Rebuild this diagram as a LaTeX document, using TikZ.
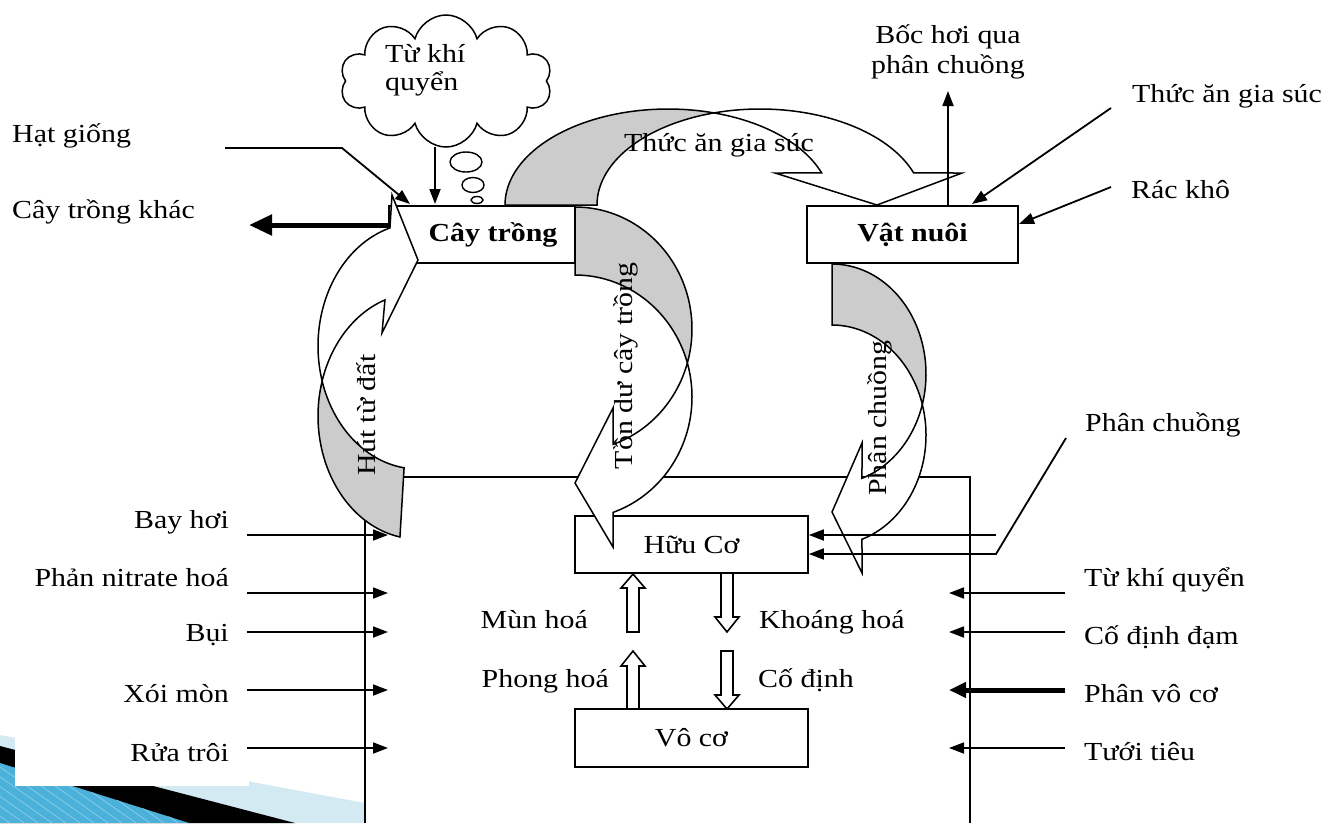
\documentclass[tikz,border=0pt]{standalone}
\usepackage{fontspec}
\setmainfont{Liberation Serif}[FakeStretch=1.15]
\usetikzlibrary{arrows.meta,shapes.symbols}
\definecolor{shadegray}{gray}{0.8}
\definecolor{lightsky}{HTML}{D4EAF2}
\definecolor{midsky}{HTML}{4BB0DA}
\definecolor{stripesky}{HTML}{86CBE8}
\tikzset{
  box/.style={draw, line width=1.7pt, fill=white, inner sep=0pt, minimum height=57pt},
  arr/.style={line width=1.8pt, -{Triangle[length=15pt,width=11pt]}},
  thickarr/.style={line width=5pt, -{Triangle[length=23pt,width=20pt]}},
  band/.style={draw, line width=1.5pt, fill=white, line join=miter},
  backband/.style={draw, line width=1.5pt, fill=shadegray, line join=miter},
  blk/.style={draw, line width=1.6pt, fill=white, line join=miter},
  lbl/.style={inner sep=0pt},
  pl/.style={samples=50, variable=\t}
}
\begin{document}
\begin{tikzpicture}[x=1pt, y=-1pt, font=\fontsize{26}{30}\selectfont]
\useasboundingbox (0,0) rectangle (1329,823);

% slide decoration, bottom left
\begin{scope}
  \clip (0,600) rectangle (365,823);
  \fill[lightsky] (0,735) -- (365,803) -- (365,823) -- (0,823) -- cycle;
  \fill[black] (0,746) -- (295,823) -- (0,823) -- cycle;
  \begin{scope}
    \clip (0,763) -- (189,823) -- (0,823) -- cycle;
    \fill[midsky] (0,700) rectangle (365,823);
    \foreach \i in {0,...,20} {
      \draw[stripesky, line width=0.8pt] (\i*14-80,760) -- (\i*14+20,830);
    }
  \end{scope}
\end{scope}
\fill[white] (15,600) rectangle (249,786);

% soil frame
\coordinate (soilBL) at (365,823);
\coordinate (soilTL) at (365,477);
\coordinate (soilTR) at (970,477);
\coordinate (soilBR) at (970,823);
\draw[line width=1.7pt] (soilBL) -- (soilTL) -- (soilTR) -- (soilBR);

% boxes
\node[box, minimum width=186pt] (cay) at (482,234.5) {\hspace*{22pt}\textbf{Cây trồng}};
\node[box, minimum width=211pt] (vat) at (912.5,234.5) {\textbf{Vật nuôi}};
\node[box, minimum width=233pt] (huu) at (691.5,544.5) {Hữu Cơ};
\node[box, minimum width=233pt, minimum height=58pt] (vo) at (691.5,738) {Vô cơ};

% curved arrow: Thuc an gia suc (top)
\path[backband] plot[pl, domain=180:286.4] ({668+163*cos(\t)},{205+96*sin(\t)})
  -- plot[pl, domain=253.6:180] ({760+163*cos(\t)},{205+96*sin(\t)}) -- cycle;
\path[band] plot[pl, domain=253.6:340.5] ({760+163*cos(\t)},{205+96*sin(\t)})
  -- (962,173) -- (877,205) -- (775,173)
  -- plot[pl, domain=340.5:286.4] ({668+163*cos(\t)},{205+96*sin(\t)}) -- cycle;

% curved arrow: Hut tu dat (left)
\path[backband] plot[pl, domain=100.4:196.5] ({418+100*cos(\t)},{416+123*sin(\t)})
  -- plot[pl, domain=163.5:98] ({418+100*cos(\t)},{346+123*sin(\t)}) -- cycle;
\path[band] plot[pl, domain=163.5:253.7] ({418+100*cos(\t)},{346+123*sin(\t)})
  -- (392,195) -- (418,260) -- (382,333)
  -- plot[pl, domain=250.7:196.5] ({418+100*cos(\t)},{416+123*sin(\t)}) -- cycle;

% curved arrow: Ton du cay trong
\path[backband] plot[pl, domain=-90:16.2] ({575+117*cos(\t)},{329+122*sin(\t)})
  -- plot[pl, domain=-16.2:-90] ({575+117*cos(\t)},{397+122*sin(\t)}) -- cycle;
\path[band] plot[pl, domain=16.2:71] ({575+117*cos(\t)},{329+122*sin(\t)})
  -- (613,408) -- (575,483) -- (613,547)
  -- plot[pl, domain=71:-16.2] ({575+117*cos(\t)},{397+122*sin(\t)}) -- cycle;

% curved arrow: Phan chuong
\path[backband] plot[pl, domain=-90:16.1] ({832+94*cos(\t)},{374+110*sin(\t)})
  -- plot[pl, domain=-16.1:-90] ({832+94*cos(\t)},{435+110*sin(\t)}) -- cycle;
\path[band] plot[pl, domain=16.1:71.4] ({832+94*cos(\t)},{374+110*sin(\t)})
  -- (862,443) -- (832,512) -- (862,573)
  -- plot[pl, domain=71.4:-16.1] ({832+94*cos(\t)},{435+110*sin(\t)}) -- cycle;

% cloud and thought bubbles
\node[cloud, draw, line width=1.5pt, fill=white, cloud puffs=10, aspect=1.6,
      minimum width=212pt, minimum height=132pt, inner sep=0pt] (cloud) at (446,81) {};
\node[lbl, anchor=base west] (cloudA) at (385,62) {Từ khí};
\node[lbl, anchor=base west] (cloudB) at (385,90) {quyển};
\draw[line width=1.4pt] (466,162) ellipse [x radius=16pt, y radius=10pt];
\draw[line width=1.4pt] (473,185) ellipse [x radius=11pt, y radius=7.5pt];
\draw[line width=1.4pt] (477,200) ellipse [x radius=6pt, y radius=3.5pt];

% top labels and arrows
\node[lbl, anchor=base west] (hat) at (12,142) {Hạt giống};
\node[lbl, anchor=base west] (khac) at (12,218) {Cây trồng khác};
\coordinate (hatS) at (225,148);
\coordinate (hatK) at (342,148);
\coordinate (hatE) at (410,204);
\draw[arr] (hatS) -- (hatK) -- (hatE);
\coordinate (khacE) at (249,225);
\draw[thickarr] ([yshift=9.5pt]cay.west) -- (khacE);
\coordinate (cloudS) at (435,147);
\coordinate (cloudE) at (435,204);
\draw[arr] (cloudS) -- (cloudE);

\node[lbl] (tagia) at (719,145) {Thức ăn gia súc};
\node[lbl, anchor=base] (boc1) at (948,43) {Bốc hơi qua};
\node[lbl, anchor=base] (boc2) at (948,73) {phân chuồng};
\coordinate (bocE) at (948,91);
\draw[arr] (vat.north -| bocE) -- (bocE);
\node[lbl, anchor=base west] (tagiaR) at (1132,102) {Thức ăn gia súc};
\node[lbl, anchor=base west] (rac) at (1131,198) {Rác khô};
\coordinate (tagS) at (1111,108);
\coordinate (tagE) at (972,204);
\draw[arr] (tagS) -- (tagE);
\coordinate (racS) at (1111,187);
\coordinate (racE) at (1019,224);
\draw[arr] (racS) -- (racE);

% rotated labels
\node[lbl, rotate=90] (hut) at (366,415) {Hút từ đất};
\node[lbl, rotate=90] (tondu) at (626,366) {Tồn dư cây trồng};
\node[lbl, rotate=90] (pcRot) at (880,418) {Phân chuồng};

% phan chuong inputs
\node[lbl, anchor=base west] (pcR) at (1085,431) {Phân chuồng};
\coordinate (pcA) at (1066,438);
\coordinate (pcB) at (996,554);
\coordinate (pcC) at (996,535);
\draw[arr] (pcA) -- (pcB) -- (huu.east |- pcB);
\draw[arr] (pcC) -- (huu.east |- pcC);

% left side losses
\node[lbl, anchor=base east] (bay) at (229,528) {Bay hơi};
\node[lbl, anchor=base east] (pnh) at (229,586) {Phản nitrate hoá};
\node[lbl, anchor=base east] (bui) at (229,641) {Bụi};
\node[lbl, anchor=base east] (xoi) at (229,702) {Xói mòn};
\node[lbl, anchor=base east] (rua) at (229,761) {Rửa trôi};
\foreach \y/\n in {535/a, 593/b, 632/c, 690/d, 748/e} {
  \coordinate (ls\n) at (247,\y);
  \coordinate (le\n) at (388,\y);
  \draw[arr] (ls\n) -- (le\n);
}

% right side inputs
\node[lbl, anchor=base west] (tkq) at (1084,586) {Từ khí quyển};
\node[lbl, anchor=base west] (cdd) at (1084,644) {Cố định đạm};
\node[lbl, anchor=base west] (pvc) at (1084,702) {Phân vô cơ};
\node[lbl, anchor=base west] (tt) at (1084,760) {Tưới tiêu};
\foreach \y/\n in {593/a, 632/b, 748/d} {
  \coordinate (rs\n) at (1065,\y);
  \coordinate (re\n) at (949,\y);
  \draw[arr] (rs\n) -- (re\n);
}
\coordinate (rsc) at (1065,690);
\coordinate (rec) at (949,690);
\draw[line width=5pt, -{Triangle[length=17pt,width=15pt]}] (rsc) -- (rec);

% block arrows between Huu co and Vo co
\path[blk] (627,632) -- (639,632) -- (639,588) -- (645,588) -- (633,574) -- (621,588) -- (627,588) -- cycle;
\path[blk] (627,709) -- (639,709) -- (639,666) -- (645,666) -- (633,651) -- (621,666) -- (627,666) -- cycle;
\path[blk] (721,573) -- (733,573) -- (733,617) -- (739,617) -- (727,632) -- (715,617) -- (721,617) -- cycle;
\path[blk] (721,651) -- (733,651) -- (733,695) -- (739,695) -- (727,709) -- (715,695) -- (721,695) -- cycle;
\node[lbl, anchor=base east] (mun) at (588,628) {Mùn hoá};
\node[lbl, anchor=base east] (phong) at (609,687) {Phong hoá};
\node[lbl, anchor=base west] (khoang) at (759,628) {Khoáng hoá};
\node[lbl, anchor=base west] (codinh) at (758,687) {Cố định};
\end{tikzpicture}
\end{document}
